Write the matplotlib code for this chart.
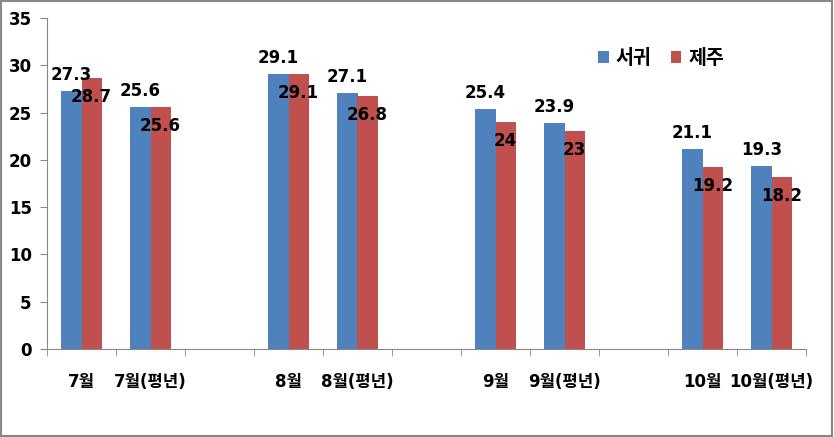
import matplotlib
matplotlib.use("Agg")
import matplotlib.pyplot as plt
from matplotlib.patches import Rectangle
import numpy as np

plt.rcParams['font.family'] = ['DejaVu Sans', 'Noto Sans CJK KR']

categories = ['7월', '7월(평년)', '', '8월', '8월(평년)', '', '9월', '9월(평년)', '', '10월', '10월(평년)']
seogwi = [27.3, 25.6, np.nan, 29.1, 27.1, np.nan, 25.4, 23.9, np.nan, 21.1, 19.3]
jeju = [28.7, 25.6, np.nan, 29.1, 26.8, np.nan, 24, 23, np.nan, 19.2, 18.2]
series_names = ['서귀', '제주']
colors = ['#4F81BD', '#C0504D']

fig = plt.figure(figsize=(8.34, 4.37), dpi=100)
ax = fig.add_axes([47/834, (437-349)/437, (806-47)/834, (349-18)/437])
fig.patches.append(Rectangle((0.001, 0.002), 0.997, 0.995, transform=fig.transFigure,
                             fill=False, edgecolor='#888888', linewidth=1.5))

x = np.arange(len(categories))
w = 0.29
ax.bar(x - w/2, seogwi, width=w, color=colors[0], label=series_names[0])
ax.bar(x + w/2, jeju, width=w, color=colors[1], label=series_names[1])

for xi, v in zip(x, seogwi):
    if not np.isnan(v):
        ax.annotate(f'{v:g}', (xi - w/2, v), xytext=(0, 16), textcoords='offset pixels',
                    ha='center', va='center', fontsize=12, fontweight='bold')
for xi, v in zip(x, jeju):
    if not np.isnan(v):
        ax.annotate(f'{v:g}', (xi + w/2, v), xytext=(0, -19), textcoords='offset pixels',
                    ha='center', va='center', fontsize=12, fontweight='bold')

ax.set_xlim(-0.5, len(categories) - 0.5)
ax.set_ylim(0, 35)
ax.set_yticks(np.arange(0, 36, 5))
ax.set_xticks(x)
ax.set_xticklabels(categories, fontsize=12, fontweight='bold')
ax.set_xticks(np.arange(-0.5, len(categories), 1), minor=True)
ax.tick_params(axis='x', which='major', length=0, pad=17)
ax.tick_params(axis='x', which='minor', length=5, color='#888888', direction='out')
ax.tick_params(axis='y', length=5, color='#888888', direction='out', labelsize=12, pad=6)
for lab in ax.get_yticklabels():
    lab.set_fontweight('bold')

for s in ['top', 'right']:
    ax.spines[s].set_visible(False)
for s in ['left', 'bottom']:
    ax.spines[s].set_color('#888888')

leg = ax.legend(loc='upper left', bbox_to_anchor=((598-47)/759, (349-49)/331), ncol=2, frameon=False,
                prop={'size': 14, 'weight': 'bold', 'family': ['Noto Sans CJK KR']},
                handlelength=0.55, handleheight=0.55, columnspacing=1.0, handletextpad=0.35,
                borderpad=0, borderaxespad=0)

fig.savefig('out.png', dpi=100)
